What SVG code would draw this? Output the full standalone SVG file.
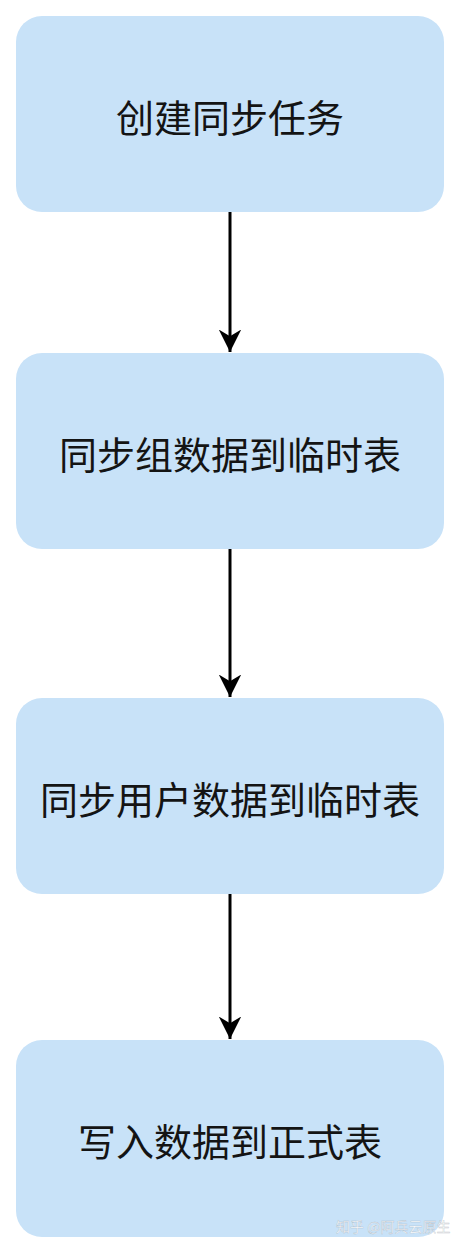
<svg xmlns="http://www.w3.org/2000/svg" width="461" height="1254" viewBox="0 0 461 1254">
<defs>
<style>
.box{fill:#c8e2f8;stroke:none}
.lbl{font-family:"Noto Sans CJK SC","Noto Sans",sans-serif;font-size:38px;fill:#141414;text-anchor:middle;dominant-baseline:central}
.edge{stroke:#000;stroke-width:3;fill:none}
.wm{font-family:"Noto Sans CJK SC","Noto Sans",sans-serif;font-size:14px;fill:#ffffff;fill-opacity:0.85;stroke:#9aa4ad;stroke-width:0.4;stroke-opacity:0.6}
</style>
<marker id="arr" viewBox="0 0 10 10" refX="10" refY="5" markerWidth="7.5" markerHeight="7.5" markerUnits="strokeWidth" orient="auto">
<path d="M0,0 L10,5 L0,10 L3,5 Z" fill="#000"/>
</marker>
</defs>
<rect width="461" height="1254" fill="#ffffff"/>
<g id="connectors">
<line class="edge" x1="230" y1="212" x2="230" y2="352" marker-end="url(#arr)"/>
<line class="edge" x1="230" y1="549" x2="230" y2="697" marker-end="url(#arr)"/>
<line class="edge" x1="230" y1="894" x2="230" y2="1039" marker-end="url(#arr)"/>
</g>
<g id="node1">
<rect class="box" x="16" y="16" width="428" height="196" rx="26"/>
<text class="lbl" x="230" y="115">创建同步任务</text>
</g>
<g id="node2">
<rect class="box" x="16" y="353" width="428" height="196" rx="26"/>
<text class="lbl" x="230" y="452">同步组数据到临时表</text>
</g>
<g id="node3">
<rect class="box" x="16" y="698" width="428" height="196" rx="26"/>
<text class="lbl" x="230" y="797">同步用户数据到临时表</text>
</g>
<g id="node4">
<rect class="box" x="16" y="1040" width="428" height="197" rx="26"/>
<text class="lbl" x="230" y="1139">写入数据到正式表</text>
</g>
<text class="wm" x="336" y="1232">知乎 @阿兵云原生</text>
</svg>
